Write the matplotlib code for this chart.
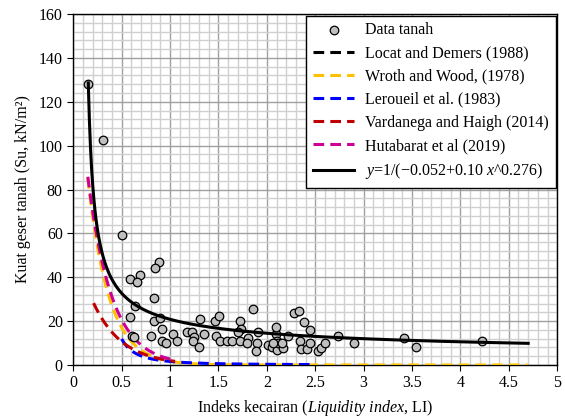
import numpy as np
import matplotlib
matplotlib.use("Agg")
import matplotlib.pyplot as plt
from matplotlib.ticker import MultipleLocator

# Data tanah (LI, Su)
li_data = [0.15, 0.307, 0.50, 0.887, 0.844, 0.581, 0.688, 0.66, 0.839, 0.637,
           0.588, 0.829, 0.895, 0.912, 1.03, 0.603, 0.626, 0.80, 0.92, 0.957,
           1.073, 1.17, 1.23, 1.246, 1.232, 1.308, 1.30, 1.349, 1.462, 1.504,
           1.473, 1.521, 1.59, 1.638, 1.727, 1.73, 1.703, 1.727, 1.806, 1.795,
           1.858, 1.91, 1.90, 1.893, 2.012, 2.058, 2.092, 2.099, 2.10, 2.105,
           2.28, 2.33, 2.384, 2.443, 2.219, 2.116, 2.17, 2.34, 2.348, 2.415,
           2.45, 2.53, 2.563, 2.605, 2.735, 2.90, 2.06, 2.16,
           3.416, 3.537, 4.22]
su_data = [128.2, 102.7, 59.4, 46.9, 44.1, 39.1, 40.8, 38.0, 30.6, 26.9,
           21.9, 20.2, 21.3, 16.3, 14.2, 13.2, 12.9, 13.2, 11.1, 9.9,
           11.1, 15.2, 15.2, 12.9, 11.1, 21.0, 8.1, 14.2, 20.2, 22.4,
           13.2, 11.1, 11.1, 11.1, 20.1, 16.3, 15.2, 11.1, 12.2, 10.2,
           25.6, 15.2, 10.2, 6.4, 9.1, 8.1, 14.2, 17.2, 11.1, 6.8,
           23.6, 24.7, 19.8, 16.0, 13.2, 10.2, 7.9, 11.1, 7.1, 7.1,
           10.2, 6.5, 7.6, 10.2, 13.2, 10.2, 10.2, 10.2,
           12.2, 8.1, 11.1]

# correlation curves (range of LI each one is drawn over)
wroth_range = (0.15, 4.7)       # Su = 170 exp(-4.6 LI)
leroueil_range = (0.5, 2.5)     # Su = 1/(LI-0.21)^2
vardanega_range = (0.21, 1.05)  # Su = 57 exp(-3.35 LI)
hutabarat_range = (0.15, 1.0)   # Su = 158 exp(-4.07 LI)
fit_range = (0.155, 4.7)        # y = 1/(-0.052 + 0.10 x^0.276)

plt.rcParams['font.family'] = ['Liberation Serif', 'DejaVu Serif']
plt.rcParams['mathtext.fontset'] = 'custom'
plt.rcParams['mathtext.rm'] = 'Liberation Serif'
plt.rcParams['mathtext.it'] = 'Liberation Serif:italic'

fs = 11.5
dash = (0, (3.5, 2))

fig = plt.figure(figsize=(5.65, 4.18), dpi=100)
ax = fig.add_axes([0.1297, 0.1268, 0.8565, 0.8397])

ax.scatter(li_data, su_data, s=38, facecolor='#bfbfbf', edgecolor='black',
           linewidth=0.9, zorder=4, label='Data tanah')

ax.plot([], [], color='black', linestyle=dash, lw=2.2,
        label='Locat and Demers (1988)')

x = np.linspace(*wroth_range, 400)
ax.plot(x, 170 * np.exp(-4.6 * x), color='#ffc000', linestyle=dash,
        lw=2.2, zorder=3, label='Wroth and Wood, (1978)')

x = np.linspace(*leroueil_range, 300)
ax.plot(x, 1 / (x - 0.21) ** 2, color='#0000ff', linestyle=dash,
        lw=2.2, zorder=3, label='Leroueil et al. (1983)')

x = np.linspace(*vardanega_range, 200)
ax.plot(x, 57 * np.exp(-3.35 * x), color='#c00000', linestyle=dash,
        lw=2.2, zorder=3, label='Vardanega and Haigh (2014)')

x = np.linspace(*hutabarat_range, 200)
ax.plot(x, 158 * np.exp(-4.07 * x), color='#cc0099', linestyle=dash,
        lw=2.2, zorder=3, label='Hutabarat et al (2019)')

x = np.linspace(*fit_range, 400)
ax.plot(x, 1 / (-0.052 + 0.10 * x ** 0.276), color='black', lw=2.2, zorder=5,
        label='$y$=1/(\u22120.052+0.10 $x$^0.276)')

ax.set_xlim(0, 5)
ax.set_ylim(0, 160)
ax.xaxis.set_minor_locator(MultipleLocator(0.1))
ax.yaxis.set_major_locator(MultipleLocator(20))
ax.yaxis.set_minor_locator(MultipleLocator(4))
ax.set_xticks(np.arange(0, 5.01, 0.5))
ax.set_xticklabels(['0', '0.5', '1', '1.5', '2', '2.5', '3', '3.5', '4', '4.5', '5'])
ax.grid(True, which='minor', color='#d0d0d0', lw=1.0, zorder=0)
ax.grid(True, which='major', color='#a0a0a0', lw=1.0, zorder=0)
ax.set_axisbelow(True)
ax.tick_params(which='major', direction='out', length=4, labelsize=fs, width=0.8)
ax.tick_params(which='minor', length=0)
for s in ax.spines.values():
    s.set_color('black')
    s.set_linewidth(1.0)

ax.set_xlabel('Indeks kecairan ($\\mathit{Liquidity\\ index}$, LI)', fontsize=fs, labelpad=5)
ax.set_ylabel('Kuat geser tanah (Su, kN/m\u00b2)', fontsize=fs, labelpad=6)

leg = ax.legend(loc='upper right', bbox_to_anchor=(1.0, 1.0), fontsize=fs,
                frameon=True, fancybox=False, edgecolor='black', framealpha=1,
                borderaxespad=0.1, handlelength=2.6, labelspacing=0.45,
                handletextpad=0.7, borderpad=0.4)
leg.get_frame().set_linewidth(1.0)
leg.set_zorder(10)

plt.savefig('out.png', dpi=100)
plt.close()
